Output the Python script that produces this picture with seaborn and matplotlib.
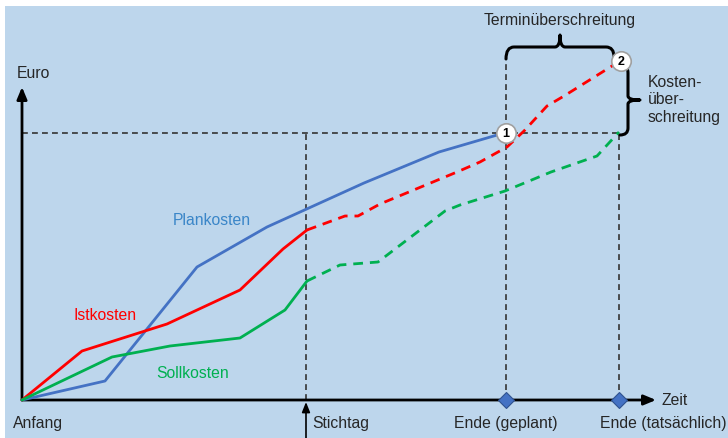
import numpy as np
import pandas as pd
import matplotlib.pyplot as plt
import seaborn as sns
from matplotlib.path import Path
from matplotlib.patches import PathPatch, Rectangle

# time axis (t) and cost axis (c), arbitrary units
plan_t = [0, 83, 175, 245, 342, 417, 482]
plan_c = [0, 19, 133, 173, 217, 248, 267]

ist_t = [0, 60, 145, 218, 261, 285]
ist_c = [0, 49, 76, 110, 151, 170]
ist_prog_t = [285, 323, 336, 358, 435, 458, 485, 502, 525, 542, 598]
ist_prog_c = [170, 184, 184, 196, 228, 238, 253, 269, 294, 304, 339]

soll_t = [0, 90, 148, 218, 263, 285]
soll_c = [0, 43, 54, 62, 90, 119]
soll_prog_t = [285, 318, 356, 423, 438, 483, 529, 575, 597]
soll_prog_c = [119, 135, 138, 189, 195, 209, 228, 244, 268]

stichtag = 284
ende_plan = 484
ende_ist = 597
budget = 267
kosten_ist = 339

BG = "#BDD6EC"
TXT = "#262626"
BLUE = "#4472C4"
RED = "#FF0000"
GREEN = "#00B050"

sns.set_theme(style="white")
plt.rcParams["font.family"] = ["Liberation Sans", "DejaVu Sans"]

fig = plt.figure(figsize=(7.28, 4.39), dpi=100)
fig.patches.append(Rectangle((5 / 728, 0), 1, 1 - 7 / 439, transform=fig.transFigure,
                             facecolor=BG, edgecolor="none", zorder=-10))
ax = fig.add_axes([0, 0, 1, 1])
ax.set_facecolor("none")
ax.set_xlim(-22, 706)
ax.set_ylim(-38, 401)
ax.axis("off")

# reference lines
ref = dict(color="#333333", lw=1.2, dashes=(3.5, 2.5), zorder=1)
ax.plot([0, ende_ist], [budget, budget], **ref)
ax.plot([stichtag, stichtag], [0, budget], **ref)
ax.plot([ende_plan, ende_plan], [0, kosten_ist + 2], **ref)
ax.plot([ende_ist, ende_ist], [0, budget], **ref)

# axes arrows
arr = dict(arrowstyle="-|>,head_length=0.6,head_width=0.25", color="black", lw=2, shrinkA=0, shrinkB=0)
ax.annotate("", xy=(0, 313), xytext=(0, 0), arrowprops=arr)
ax.annotate("", xy=(634, 0), xytext=(0, 0), arrowprops=arr)
ax.annotate("", xy=(stichtag, -2), xytext=(stichtag, -40),
            arrowprops=dict(arrowstyle="-|>,head_length=0.5,head_width=0.2", color="black", lw=1.2,
                            shrinkA=0, shrinkB=0))

# curves
sns.lineplot(x=plan_t, y=plan_c, sort=False, estimator=None, color=BLUE, lw=2, ax=ax, zorder=3)
sns.lineplot(x=ist_t, y=ist_c, sort=False, estimator=None, color=RED, lw=2, ax=ax, zorder=3)
sns.lineplot(x=soll_t, y=soll_c, sort=False, estimator=None, color=GREEN, lw=2, ax=ax, zorder=3)
sns.lineplot(x=ist_prog_t, y=ist_prog_c, sort=False, estimator=None, color=RED, lw=2, ax=ax, zorder=3)
ax.lines[-1].set_dashes((3.5, 2.5))
sns.lineplot(x=soll_prog_t, y=soll_prog_c, sort=False, estimator=None, color=GREEN, lw=2, ax=ax, zorder=3)
ax.lines[-1].set_dashes((3.5, 2.5))

# milestone diamonds
ax.plot([ende_plan, ende_ist], [0, 0], ls="none", marker="D", ms=8, color=BLUE,
        markeredgecolor="#2F528F", markeredgewidth=0.8, zorder=5)

# numbered circles
for (t, c, n) in [(ende_plan, budget, "1"), (ende_ist + 2, kosten_ist, "2")]:
    ax.plot([t], [c], marker="o", ms=14, markerfacecolor="white", markeredgecolor="#A0A0A0",
            markeredgewidth=1.2, zorder=6)
    ax.text(t, c, n, ha="center", va="center", fontsize=9, fontweight="bold", color="black", zorder=7)


def brace(pts):
    verts = [pts[0]]
    codes = [Path.MOVETO]
    for i in range(1, len(pts) - 1, 2):
        verts += [pts[i], pts[i + 1]]
        codes += [Path.CURVE3, Path.CURVE3]
    ax.add_patch(PathPatch(Path(verts, codes), fill=False, lw=2.2, color="black", zorder=4,
                           capstyle="round", joinstyle="round"))


# Terminüberschreitung brace (horizontal)
brace([(484, 341), (484, 353), (492, 353), (530, 353), (533, 353), (538, 353), (538, 365),
       (538, 353), (543, 353), (546, 353), (584, 353), (592, 353), (592, 343)])
# Kostenüberschreitung brace (vertical)
brace([(599, 335), (606, 335), (606, 327), (606, 308), (606, 304), (606, 300), (618, 300),
       (606, 300), (606, 296), (606, 292), (606, 272), (606, 265), (598, 265)])

# texts
fs = 11.3
ax.text(11, 327, "Euro", fontsize=fs, color=TXT, ha="center", va="center")
ax.text(640, 0, "Zeit", fontsize=fs, color=TXT, ha="left", va="center")
ax.text(16, -23, "Anfang", fontsize=fs, color=TXT, ha="center", va="center")
ax.text(stichtag + 6, -23, "Stichtag", fontsize=fs, color=TXT, ha="left", va="center")
ax.text(ende_plan, -23, "Ende (geplant)", fontsize=fs, color=TXT, ha="center", va="center")
ax.text(641, -23, "Ende (tatsächlich)", fontsize=fs, color=TXT, ha="center", va="center")
ax.text(538, 380, "Terminüberschreitung", fontsize=fs, color=TXT, ha="center", va="center")
ax.text(626, 301, "Kosten-\nüber-\nschreitung", fontsize=fs, color=TXT, ha="left", va="center",
        linespacing=1.2)
ax.text(190, 180, "Plankosten", fontsize=fs, color="#3A86C8", ha="center", va="center")
ax.text(83, 85, "Istkosten", fontsize=fs, color=RED, ha="center", va="center")
ax.text(171, 27, "Sollkosten", fontsize=fs, color="#00B050", ha="center", va="center")

fig.savefig("out.png", dpi=100)
